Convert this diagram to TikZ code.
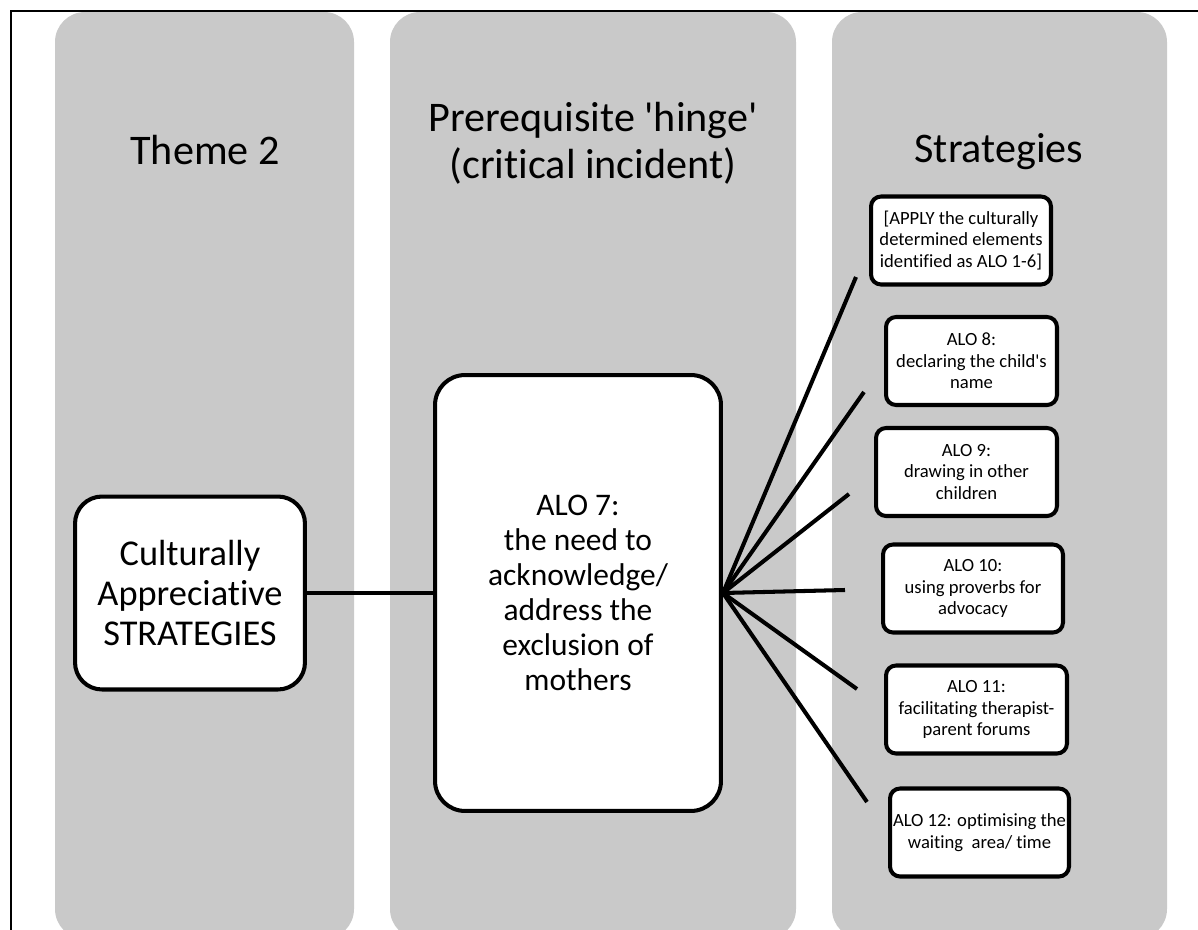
\documentclass[tikz,border=0pt]{standalone}
\usepackage{fontspec}
\setmainfont{Carlito}[Ligatures={TeX,NoCommon}]
\definecolor{colgrey}{RGB}{201,201,201}

\begin{document}
\begin{tikzpicture}[x=0.02cm,y=-0.02cm,
		column/.style={fill=colgrey,rounded corners=0.6cm},
		head/.style={align=center,font=\fontsize{24}{26.7}\selectfont},
		box/.style={draw,line width=2.3pt,fill=white,align=center,inner sep=0pt},
		smallbox/.style={box,rounded corners=0.2cm,minimum height=1.76cm,font=\fontsize{10.6}{12.3}\selectfont},
		link/.style={line width=2.3pt}]
		\clip (0,0) rectangle (1198,930);
		\fill[column] (55,12) rectangle (354,939);
		\fill[column] (390,12) rectangle (796,939);
		\fill[column] (832,12) rectangle (1167,939);
		\draw[line width=1.1pt] (11,930)--(11,11)--(1198,11);
		\node[head] (theme) at (205,150) {Theme 2};
		\node[head] (hinge) at (593,143) {Prerequisite \textquotesingle hinge\textquotesingle\\(critical incident)};
		\node[head] (strat) at (999,152) {Strategies};
		\node[box,rounded corners=0.54cm,minimum width=4.6cm,minimum height=3.86cm,font=\fontsize{20.7}{22.8}\selectfont] (cult) at (190,593) {Culturally\\Appreciative\\STRATEGIES};
		\node[box,rounded corners=0.6cm,minimum width=5.72cm,minimum height=8.72cm,font=\fontsize{17.9}{19.9}\selectfont] (alo7) at (578,593) {ALO 7:\\the need to\\acknowledge/\\address the\\exclusion of\\mothers};
		\node[smallbox,minimum width=3.6cm] (apply) at (961,240.5) {[APPLY the culturally\\determined elements\\identified as ALO 1-6]};
		\node[smallbox,minimum width=3.42cm] (alo8) at (971.5,361) {ALO 8:\\declaring the child\textquotesingle s\\name};
		\node[smallbox,minimum width=3.62cm] (alo9) at (966.5,472) {ALO 9:\\drawing in other\\children};
		\node[smallbox,minimum width=3.6cm] (alo10) at (973,588.5) {ALO 10:\\using proverbs for\\advocacy};
		\node[smallbox,minimum width=3.62cm] (alo11) at (976.5,709.5) {ALO 11:\\facilitating therapist-\\parent forums};
		\node[smallbox,minimum width=3.58cm] (alo12) at (979.5,832.5) {ALO 12: optimising the\\waiting\ \ area/ time};
		\coordinate (e1) at (856,277);
		\coordinate (e2) at (864,392);
		\coordinate (e3) at (849,494);
		\coordinate (e4) at (845,590);
		\coordinate (e5) at (857,689);
		\coordinate (e6) at (867,802);
		\draw[link] (cult)--(alo7);
		\draw[link] (alo7.east)--(e1);
		\draw[link] (alo7.east)--(e2);
		\draw[link] (alo7.east)--(e3);
		\draw[link] (alo7.east)--(e4);
		\draw[link] (alo7.east)--(e5);
		\draw[link] (alo7.east)--(e6);
	\end{tikzpicture}
\end{document}
